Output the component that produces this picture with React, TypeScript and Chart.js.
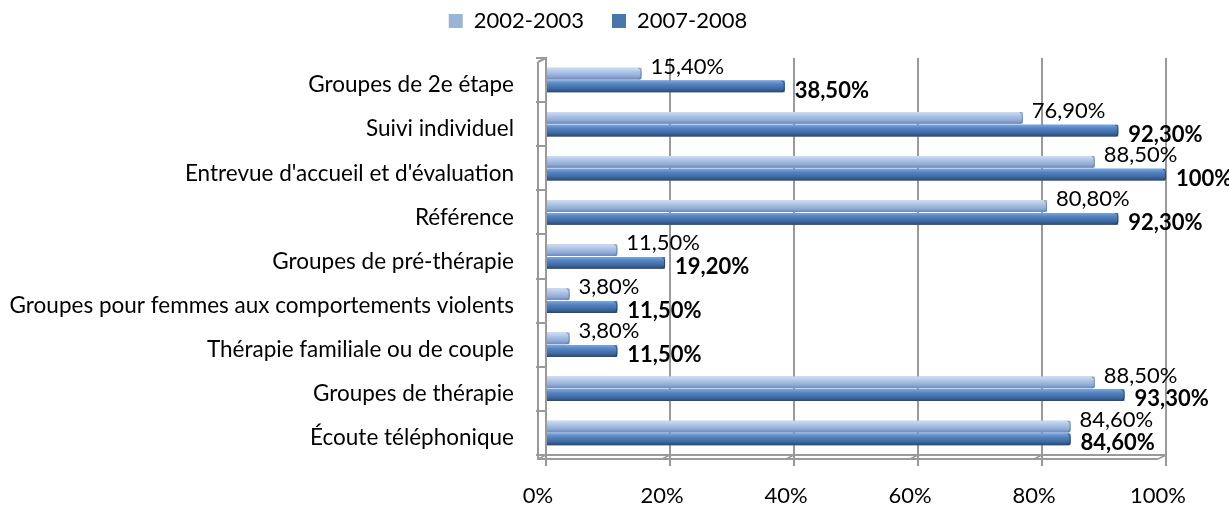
import React, { useEffect, useRef } from 'react';
import { Chart, registerables } from 'chart.js';

Chart.register(...registerables);

const categories = [
  'Groupes de 2e étape',
  'Suivi individuel',
  "Entrevue d'accueil et d'évaluation",
  'Référence',
  'Groupes de pré-thérapie',
  'Groupes pour femmes aux comportements violents',
  'Thérapie familiale ou de couple',
  'Groupes de thérapie',
  'Écoute téléphonique',
];
const seriesNames = ['2002-2003', '2007-2008'];
const values2002 = [15.4, 76.9, 88.5, 80.8, 11.5, 3.8, 3.8, 88.5, 84.6];
const values2007 = [38.5, 92.3, 100, 92.3, 19.2, 11.5, 11.5, 93.3, 84.6];
const xMin = 0;
const xMax = 100;
const xStep = 20;

const FONT = "Lato, 'Open Sans', sans-serif";
const BASE_COLORS = ['#9AB3D9', '#4A76AE'];
const GRADIENTS = [
  [[0, '#d0ddf0'], [0.35, '#afc4e4'], [0.7, '#92acd6'], [1, '#6c89ba']],
  [[0, '#80a4d6'], [0.3, '#5584c1'], [0.7, '#3d69a4'], [1, '#264877']],
];
const LINE = '#9a9a9a';
const DEPTH_X = 8;
const DEPTH_Y = 4;
const LEGEND_SHIFT = 15;

function fmt(v: number): string {
  return Number.isInteger(v) ? `${v}%` : v.toFixed(2).replace('.', ',') + '%';
}

const legendSpacer = {
  id: 'legendSpacer',
  beforeLayout(chart: any) {
    const lg = chart.legend;
    if (lg && !lg.__patched) {
      const orig = lg.fit.bind(lg);
      lg.fit = function () {
        orig();
        this.height += 16;
      };
      lg.__patched = true;
    }
  },
  afterLayout(chart: any) {
    const lg = chart.legend;
    if (lg) {
      lg.left += LEGEND_SHIFT;
      lg.right += LEGEND_SHIFT;
    }
  },
};

// front edges of the pseudo-3D wall and floor, derived from the scales
const wall3d = {
  id: 'wall3d',
  beforeDatasetsDraw(chart: any) {
    const ctx = chart.ctx as CanvasRenderingContext2D;
    const { left, right, top, bottom } = chart.chartArea;
    const xs = chart.scales.x;
    ctx.save();
    ctx.strokeStyle = LINE;
    ctx.lineWidth = 2;
    ctx.beginPath();
    ctx.moveTo(left - DEPTH_X, top + DEPTH_Y);
    ctx.lineTo(left - DEPTH_X, bottom + DEPTH_Y);
    ctx.lineTo(right - DEPTH_X, bottom + DEPTH_Y);
    ctx.moveTo(left, top);
    ctx.lineTo(left - DEPTH_X, top + DEPTH_Y);
    ctx.stroke();
    ctx.lineWidth = 1.5;
    ctx.beginPath();
    xs.ticks.forEach((t: any) => {
      const px = xs.getPixelForValue(t.value);
      ctx.moveTo(px, bottom);
      ctx.lineTo(px - DEPTH_X, bottom + DEPTH_Y);
    });
    ctx.stroke();
    ctx.restore();
  },
};

const barStyler = {
  id: 'barStyler',
  afterDatasetsDraw(chart: any) {
    const ctx = chart.ctx as CanvasRenderingContext2D;
    ctx.save();
    chart.data.datasets.forEach((ds: any, di: number) => {
      const meta = chart.getDatasetMeta(di);
      meta.data.forEach((el: any) => {
        const { x, y, base, height } = el.getProps(['x', 'y', 'base', 'height'], true);
        const top = y - height / 2;
        const g = ctx.createLinearGradient(0, top, 0, top + height);
        GRADIENTS[di].forEach(([o, c]) => g.addColorStop(o as number, c as string));
        const w = x - base;
        const r = Math.min(3, w / 2);
        ctx.beginPath();
        ctx.moveTo(base, top);
        ctx.lineTo(x - r, top);
        ctx.quadraticCurveTo(x, top, x, top + r);
        ctx.lineTo(x, top + height - r);
        ctx.quadraticCurveTo(x, top + height, x - r, top + height);
        ctx.lineTo(base, top + height);
        ctx.closePath();
        ctx.fillStyle = g;
        ctx.fill();
        ctx.strokeStyle = di === 0 ? 'rgba(90,115,160,0.7)' : 'rgba(30,55,95,0.7)';
        ctx.lineWidth = 1;
        ctx.beginPath();
        ctx.moveTo(x - r, top + 0.5);
        ctx.quadraticCurveTo(x - 0.5, top + 0.5, x - 0.5, top + r);
        ctx.lineTo(x - 0.5, top + height - r);
        ctx.quadraticCurveTo(x - 0.5, top + height - 0.5, x - r, top + height - 0.5);
        ctx.stroke();
      });
    });
    chart.data.datasets.forEach((ds: any, di: number) => {
      const meta = chart.getDatasetMeta(di);
      meta.data.forEach((el: any, i: number) => {
        const { x, y } = el.getProps(['x', 'y'], true);
        ctx.font = `${di === 1 ? 'bold ' : ''}22px ${FONT}`;
        ctx.fillStyle = '#000';
        ctx.textAlign = 'left';
        ctx.textBaseline = 'middle';
        ctx.fillText(fmt(ds.data[i]), x + (di === 0 ? 9 : 10), y + (di === 0 ? -7 : 4));
      });
    });
    ctx.restore();
  },
};

export default function App() {
  const ref = useRef<HTMLCanvasElement | null>(null);

  useEffect(() => {
    document.body.style.margin = '0';
    if (!ref.current) return;
    const chart = new Chart(ref.current, {
      type: 'bar',
      data: {
        labels: categories,
        datasets: [
          {
            label: seriesNames[0],
            data: values2002,
            backgroundColor: BASE_COLORS[0],
            categoryPercentage: 0.58,
            barPercentage: 0.92,
          },
          {
            label: seriesNames[1],
            data: values2007,
            backgroundColor: BASE_COLORS[1],
            categoryPercentage: 0.58,
            barPercentage: 0.92,
          },
        ],
      },
      options: {
        indexAxis: 'y',
        responsive: false,
        animation: false,
        layout: { padding: { left: 0, right: 63, top: -18, bottom: 0 } },
        plugins: {
          legend: {
            position: 'top',
            align: 'center',
            labels: {
              boxWidth: 14,
              boxHeight: 14,
              padding: 28,
              color: '#000',
              font: { family: FONT, size: 22 },
            },
          },
          tooltip: { enabled: false },
        },
        scales: {
          x: {
            type: 'linear',
            min: xMin,
            max: xMax,
            ticks: {
              stepSize: xStep,
              callback: (v: any) => `${v}%`,
              color: '#000',
              font: { family: FONT, size: 22 },
              padding: 17,
              labelOffset: -8,
            },
            grid: { color: LINE, lineWidth: 2, tickLength: 11 },
            border: { display: true, color: LINE, width: 2 },
            afterFit: (s: any) => {
              s.height = 51;
            },
          },
          y: {
            type: 'category',
            ticks: {
              color: '#000',
              font: { family: FONT, size: 22.5 },
              padding: 22,
              labelOffset: 5,
              autoSkip: false,
            },
            grid: {
              drawOnChartArea: false,
              drawTicks: true,
              tickLength: 10,
              color: LINE,
              lineWidth: 2,
            },
            border: { display: true, color: LINE, width: 2 },
            afterFit: (s: any) => {
              s.width = 546;
            },
          },
        },
      },
      plugins: [legendSpacer, wall3d, barStyler],
    } as any);
    return () => chart.destroy();
  }, []);

  return (
    <div style={{ width: 1229, height: 506, background: '#fff' }}>
      <canvas ref={ref} width={1229} height={506} />
    </div>
  );
}
